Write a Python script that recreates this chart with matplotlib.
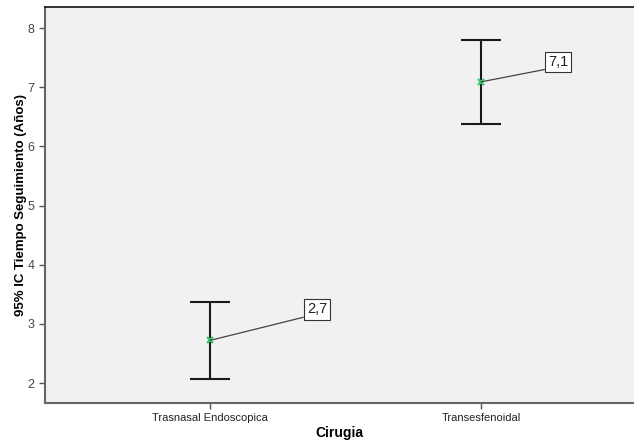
import matplotlib
matplotlib.use("Agg")
import matplotlib.pyplot as plt

categories = ["Trasnasal Endoscopica", "Transesfenoidal"]
means = [2.72, 7.09]
lower = [2.06, 6.38]
upper = [3.37, 7.80]
mean_labels = ["2,7", "7,1"]
yticks = [2, 3, 4, 5, 6, 7, 8]

plt.rcParams['font.family'] = ['Liberation Sans', 'DejaVu Sans']

fig = plt.figure(figsize=(6.34, 4.44), dpi=100)
ax = fig.add_axes([45/634, 1-403/444, 1-45/634, (403-7)/444])
ax.set_facecolor('#f1f1f1')

xs = [1, 2]
yerr = [[m - l for m, l in zip(means, lower)], [u - m for m, u in zip(means, upper)]]
ax.errorbar(xs, means, yerr=yerr, fmt='none', ecolor='#1a1a1a', elinewidth=1.5,
            capsize=14.4, capthick=1.5, zorder=2)
ax.plot(xs, means, linestyle='none', marker='x', markersize=5, markeredgewidth=1.6,
        color='#3cc66a', zorder=3)

offsets = [(107 * 0.72, 31 * 0.72), (77 * 0.72, 20 * 0.72)]
for x, m, lab, off in zip(xs, means, mean_labels, offsets):
    ax.annotate(lab, xy=(x, m), xytext=off, textcoords='offset points',
                fontsize=10.5, color='#222222', ha='center', va='center',
                bbox=dict(boxstyle='square,pad=0.22', fc='white', ec='#333333', lw=0.8),
                arrowprops=dict(arrowstyle='-', color='#444444', lw=0.9,
                                relpos=(0, 0), shrinkA=0, shrinkB=0),
                zorder=4)

ax.set_xlim(0.391, 2.564)
ax.set_ylim(1.662, 8.355)
ax.set_xticks(xs)
ax.set_xticklabels(categories, fontsize=8, color='#222222')
ax.set_yticks(yticks)
ax.set_yticklabels([str(t) for t in yticks], fontsize=9, color='#444444')
ax.tick_params(axis='both', direction='out', length=4, width=1, color='#555555')

for s in ['left', 'bottom']:
    ax.spines[s].set_color('#666666')
    ax.spines[s].set_linewidth(1.5)
ax.spines['top'].set_color('#111111')
ax.spines['top'].set_linewidth(1.2)
ax.spines['right'].set_visible(False)

ax.set_xlabel('Cirugia', fontsize=10, fontweight='bold', labelpad=2)
ax.set_ylabel('95% IC Tiempo Seguimiento (Años)', fontsize=9.5, fontweight='bold')
ax.yaxis.set_label_coords(-0.031, 0.5)

fig.savefig('out.png', dpi=100)
